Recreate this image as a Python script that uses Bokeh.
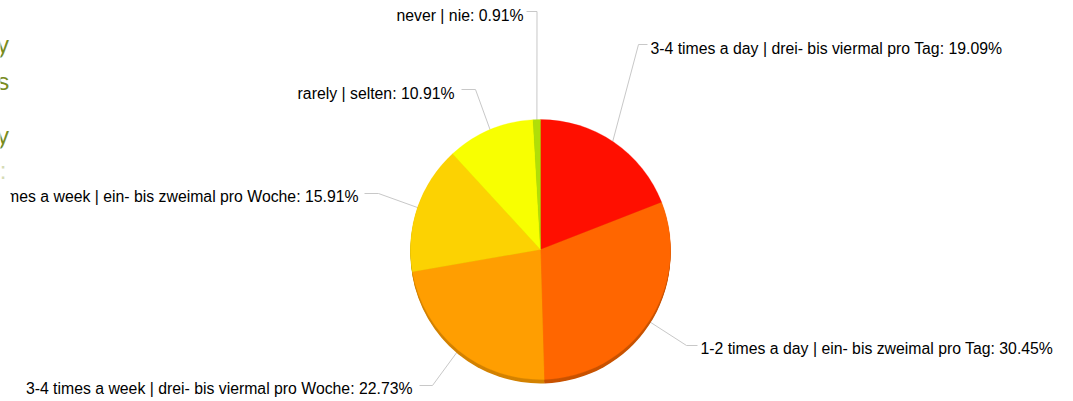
import math
from bokeh.plotting import figure
from bokeh.layouts import row
from bokeh.models import Range1d, ColumnDataSource
from bokeh.core.properties import value
from bokeh.embed import file_html
from bokeh.resources import INLINE

# ---- data ----
categories = [
    "3-4 times a day | drei- bis viermal pro Tag",
    "1-2 times a day | ein- bis zweimal pro Tag",
    "3-4 times a week | drei- bis viermal pro Woche",
    "1-2 times a week | ein- bis zweimal pro Woche",
    "rarely | selten",
    "never | nie",
]
shares = [19.09, 30.45, 22.73, 15.91, 10.91, 0.91]
colors = ["#FF0F00", "#FF6600", "#FF9E01", "#FCD202", "#F8FF01", "#B0DE09"]
rim_colors = ["#C40C00", "#C85200", "#D38200", "#C9A802", "#C6CC01", "#8DB207"]

# clipped side column texts (only their last letters are visible)
side_texts = ["y", "s", "y", ":"]
side_colors = ["#7A8C1E", "#7A8C1E", "#7A8C1E", "#D5DBB5"]

# ---- layout (pixel space, y down) ----
W, H = 1073, 401
SIDE_W = 10
CX, CY, R = 540.0, 249.0, 130.0
DEPTH = 4
# per-slice label layout: elbow x, elbow y, line end x, text x, text y, align
lab_layout = [
    (638, 44, 647, 650, 48, "left"),
    (686, 345, 697, 700, 348, "left"),
    (432, 385, 419, 412, 388, "right"),
    (378, 193, 364, 358, 196, "right"),
    (475, 89, 461, 454, 93, "right"),
    (536.5, 11, 526, 523, 15, "right"),
]
side_pos = [(8.5, 44), (8.8, 81), (8.5, 135), (6.0, 170)]

def Y(yp):
    return H - yp

def bare(fig):
    fig.axis.visible = False
    fig.grid.visible = False
    fig.background_fill_color = "white"
    fig.border_fill_color = "white"
    return fig

# left strip (text column that is cut off by the chart area)
side = bare(figure(width=SIDE_W, height=H, output_backend="svg", toolbar_location=None,
                   x_range=Range1d(0, SIDE_W), y_range=Range1d(0, H),
                   min_border=0, outline_line_color=None))
for t, col, (sx, sy) in zip(side_texts, side_colors, side_pos):
    side.text(x=[sx], y=[Y(sy)], text=[t], text_align="right", text_baseline="alphabetic",
              text_font=value("Liberation Sans"), text_font_size="24px", text_color=col)

p = bare(figure(width=W - SIDE_W, height=H, output_backend="svg", toolbar_location=None,
                x_range=Range1d(SIDE_W, W), y_range=Range1d(0, H),
                min_border=0, outline_line_color=None))

total = sum(shares)
starts, ends, mids = [], [], []
c = 0.0
for v in shares:
    c0 = c / total
    c += v
    c1 = c / total
    starts.append(math.pi / 2 - 2 * math.pi * c1)
    ends.append(math.pi / 2 - 2 * math.pi * c0)
    mids.append((c0 + c1) / 2)

# connector lines (drawn first so the pie covers their inner ends)
for i, m in enumerate(mids):
    a = 2 * math.pi * m
    x0 = CX + R * 0.97 * math.sin(a)
    y0 = CY - R * 0.97 * math.cos(a)
    ex, ey, lx, tx, ty, al = lab_layout[i]
    p.line([x0, ex, lx], [Y(y0), Y(ey), Y(ey)], line_color="#C8C8C8", line_width=1)

# 3D rim
for k in range(DEPTH, 0, -1):
    src = ColumnDataSource(dict(s=starts, e=ends, c=rim_colors))
    p.wedge(x=CX, y=Y(CY + k), radius=R, start_angle="s", end_angle="e",
            fill_color="c", line_color=None, source=src)

# top face
src = ColumnDataSource(dict(s=starts, e=ends, c=colors))
p.wedge(x=CX, y=Y(CY), radius=R, start_angle="s", end_angle="e",
        fill_color="c", line_color="c", line_width=0.5, line_alpha=0.6, source=src)

# labels
for i, (cat, v) in enumerate(zip(categories, shares)):
    ex, ey, lx, tx, ty, al = lab_layout[i]
    p.text(x=[tx], y=[Y(ty)], text=[f"{cat}: {v:.2f}%"], text_align=al,
           text_baseline="middle", text_font=value("Liberation Sans"),
           text_font_size="15.8px", text_color="#000000")

layout = row(side, p, spacing=0)
open("out.html", "w").write(file_html(layout, INLINE))
